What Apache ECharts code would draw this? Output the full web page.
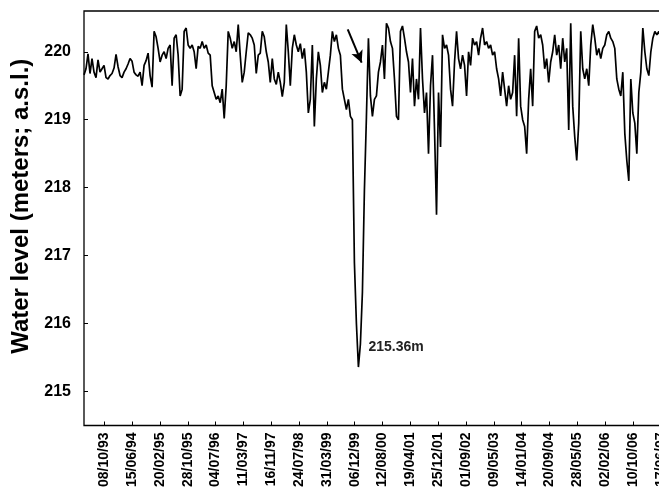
<!DOCTYPE html>
<html>
<head>
<meta charset="utf-8">
<script src="https://cdn.jsdelivr.net/npm/echarts@6/dist/echarts.min.js"></script>
<style>
html,body{margin:0;padding:0;background:#fff;overflow:hidden;width:659px;height:490px;}
#chart{width:683px;height:490px;}
</style>
</head>
<body>
<div id="chart"></div>
<script>
// Tick labels (dates) and their positions in days after 08/10/93
const tickLabels = ['08/10/93','15/06/94','20/02/95','28/10/95','04/07/96','11/03/97','16/11/97','24/07/98','31/03/99','06/12/99','12/08/00','19/04/01','25/12/01','01/09/02','09/05/03','14/01/04','20/09/04','28/05/05','02/02/06','10/10/06','17/06/07'];
const tickDays = [0,250,500,750,1000,1250,1500,1750,2000,2250,2500,2750,3000,3250,3500,3750,4000,4250,4500,4750,5000];
const yTicks = [215,216,217,218,219,220];

// Water level series: sampled every 18 days, first sample 183 days before 08/10/93
const sampleStartDay = -183;
const sampleStepDays = 18;
const waterLevel = [
219.66,219.75,219.97,219.68,219.9,219.7,219.62,219.88,219.7,219.75,
219.8,219.62,219.6,219.65,219.68,219.76,219.96,219.78,219.65,219.62,
219.7,219.75,219.82,219.9,219.86,219.7,219.66,219.64,219.7,219.5,
219.8,219.87,219.98,219.65,219.48,220.3,220.22,220.05,219.85,219.95,
220.0,219.9,220.05,220.1,219.5,220.2,220.25,219.95,219.35,219.45,
220.3,220.35,220.1,220.05,220.1,220.0,219.75,220.08,220.05,220.15,
220.05,220.1,219.98,219.95,219.5,219.4,219.3,219.35,219.25,219.45,
219.02,219.5,220.3,220.2,220.05,220.15,220.0,220.4,219.95,219.55,
219.7,220.0,220.28,220.25,220.2,220.1,219.68,219.95,219.98,220.3,
220.22,220.0,219.85,219.55,219.9,219.6,219.52,219.7,219.55,219.34,
219.55,220.4,220.0,219.5,220.05,220.25,220.1,220.0,220.12,219.9,
220.05,219.7,219.1,219.3,220.1,218.9,219.6,220.0,219.8,219.4,
219.55,219.45,219.7,219.95,220.3,220.15,220.25,220.05,219.95,219.45,
219.3,219.15,219.3,219.05,219.0,216.9,216.0,215.36,215.7,216.46,
217.97,219.04,220.2,219.35,219.05,219.3,219.35,219.7,219.85,220.1,
219.6,220.42,220.35,220.15,220.05,219.6,219.05,219.0,220.3,220.38,
220.2,220.0,219.85,219.4,219.9,219.2,219.6,219.3,220.35,219.6,
219.1,219.4,218.5,219.5,219.95,218.85,217.6,219.4,218.6,220.25,
220.05,220.1,219.95,219.45,219.2,219.85,220.3,219.9,219.75,219.95,
219.8,219.35,220.0,219.8,220.2,220.1,220.15,219.95,220.2,220.35,
220.1,220.15,220.05,220.1,219.95,220.0,219.75,219.6,219.35,219.7,
219.45,219.2,219.5,219.3,219.4,219.95,219.05,220.2,219.2,219.0,
218.9,218.5,219.3,219.75,219.2,220.3,220.38,220.2,220.25,220.1,
219.75,219.9,219.55,219.85,220.0,220.25,219.95,220.1,219.75,220.2,
219.85,220.05,218.85,220.42,219.2,218.75,218.4,218.95,220.3,219.75,
219.6,219.75,219.5,220.1,220.4,220.2,219.95,220.05,219.9,220.05,
220.1,220.25,220.3,220.2,220.15,220.05,219.6,219.45,219.35,219.7,
218.8,218.4,218.1,219.6,219.1,218.95,218.5,219.4,219.7,220.35,
220.0,219.75,219.65,220.0,220.2,220.3,220.25,220.3,220.2
];

// Arrow annotation (data coordinates: day, level)
const arrowStart = [2187, 220.33];
const arrowEnd = [2312, 219.84];

const seriesData = waterLevel.map((v, i) => [sampleStartDay + i * sampleStepDays, v]);
let minIdx = 0;
waterLevel.forEach((v, i) => { if (v < waterLevel[minIdx]) minIdx = i; });
const minPoint = seriesData[minIdx];

const chart = echarts.init(document.getElementById('chart'), null, {renderer: 'canvas'});
chart.setOption({
  animation: false,
  backgroundColor: '#ffffff',
  grid: {
    left: 84, top: 11, bottom: 63, right: 0,
    show: true, borderColor: '#000', borderWidth: 1.3, backgroundColor: 'transparent'
  },
  xAxis: {
    type: 'value',
    min: -183,
    max: 5200,
    axisLine: {show: false, onZero: false},
    splitLine: {show: false},
    axisTick: {show: true, inside: true, length: 4, lineStyle: {color: '#000'}, customValues: tickDays},
    axisLabel: {
      customValues: tickDays,
      rotate: 90,
      margin: 7,
      fontFamily: 'Liberation Sans, Arial, sans-serif',
      fontWeight: 'bold',
      fontSize: 14,
      color: '#000',
      formatter: function (v) { const k = tickDays.indexOf(v); return k >= 0 ? tickLabels[k] : ''; }
    }
  },
  yAxis: {
    type: 'value',
    min: 214.5,
    max: 220.6,
    name: 'Water level (meters; a.s.l.)',
    nameLocation: 'middle',
    nameGap: 43,
    nameTextStyle: {
      fontFamily: 'Liberation Sans, Arial, sans-serif',
      fontWeight: 'bold',
      fontSize: 24,
      color: '#000',
      padding: [0, 0, 0, 24]
    },
    axisLine: {show: false, onZero: false},
    splitLine: {show: false},
    axisTick: {show: true, inside: true, length: 4, lineStyle: {color: '#000'}, customValues: yTicks},
    axisLabel: {
      customValues: yTicks,
      margin: 13,
      fontFamily: 'Liberation Sans, Arial, sans-serif',
      fontWeight: 'bold',
      fontSize: 16,
      color: '#000'
    }
  },
  series: [{
    type: 'line',
    data: seriesData,
    showSymbol: false,
    symbol: 'none',
    lineStyle: {color: '#000', width: 1.7},
    clip: true,
    markPoint: {
      symbol: 'circle',
      symbolSize: 0,
      label: {
        show: true,
        position: [10, -20],
        align: 'left',
        verticalAlign: 'middle',
        formatter: minPoint[1].toFixed(2) + 'm',
        fontFamily: 'Liberation Sans, Arial, sans-serif',
        fontWeight: 'bold',
        fontSize: 14,
        color: '#222'
      },
      data: [{coord: minPoint}]
    },
    markLine: {
      silent: true,
      symbol: ['none', 'arrow'],
      symbolSize: [9, 12],
      label: {show: false},
      lineStyle: {color: '#000', width: 2, type: 'solid'},
      data: [[{coord: arrowStart}, {coord: arrowEnd}]]
    }
  }]
});
</script>
</body>
</html>
